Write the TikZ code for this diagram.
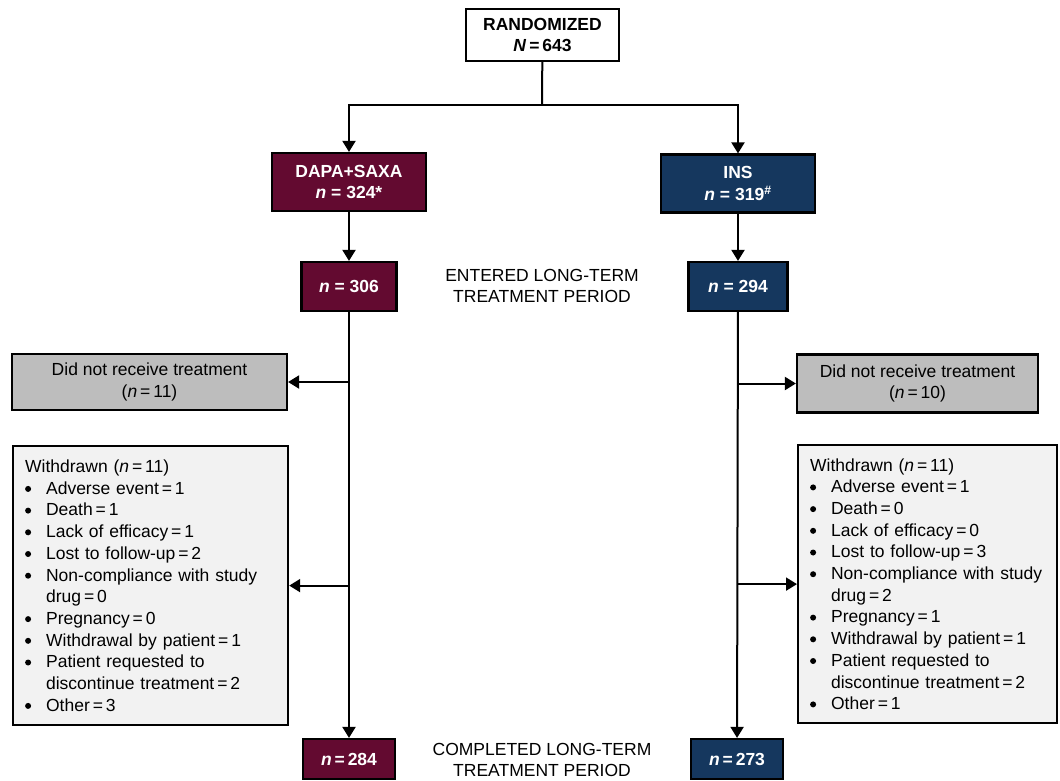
\documentclass[tikz,border=0pt]{standalone}
\usepackage{fontspec}
\setmainfont{Liberation Sans}
\usetikzlibrary{arrows.meta}
\definecolor{dMaroon}{HTML}{630A30}
\definecolor{dNavy}{HTML}{15375E}
\definecolor{dGrey}{HTML}{BDBDBD}
\definecolor{dLight}{HTML}{F2F2F2}
\newcommand{\wbul}{\makebox[21pt][l]{\tikz[baseline=0pt,x=1pt,y=1pt]\fill (4.5,5.3) circle (3);}}
\newcommand{\wcont}{\hspace*{21pt}}

\begin{document}
\begin{tikzpicture}[x=1pt,y=-1pt]
    \tikzset{
        every node/.style={font=\fontsize{17.5}{21.7}\selectfont},
        box/.style={draw=black, line width=2.2pt, inner sep=0pt, align=center},
        topbox/.style={box, fill=white, font=\fontsize{17.5}{21.7}\selectfont\bfseries},
        dapabox/.style={box, fill=dMaroon, text=white, font=\fontsize{17.5}{21.7}\selectfont\bfseries},
        insbox/.style={box, fill=dNavy, text=white, font=\fontsize{17.5}{21.7}\selectfont\bfseries},
        notrx/.style={box, fill=dGrey},
        wdbox/.style={box, fill=dLight, align=left, anchor=north west, inner xsep=12pt},
        conn/.style={line width=2pt},
        arr/.style={conn, -{Triangle[length=11pt,width=13pt]}}
    };
    \useasboundingbox (0,0) rectangle (1060,780);

	% randomization and arms
    \node[topbox, minimum width=153pt, minimum height=52pt] (rand) at (542.5,35) {RANDOMIZED\\\textit{N}\,=\,643};
    \node[dapabox, minimum width=154pt, minimum height=58pt] (dapa) at (349,182) {DAPA+SAXA\\\textit{n} = 324*};
    \node[insbox, minimum width=154pt, minimum height=58pt] (ins) at (738,183.5) {INS\\\textit{n} = 319\textsuperscript{\#}};
    \coordinate (split) at (542,105);

	% long-term period
    \node[dapabox, minimum width=95pt, minimum height=49pt] (d306) at (349,286.5) {\textit{n} = 306};
    \node[insbox, minimum width=99pt, minimum height=49pt] (i294) at (738,286.5) {\textit{n} = 294};
    \node[align=center] (entered) at (542,286) {ENTERED LONG-TERM\\TREATMENT PERIOD};

	% not treated
    \node[notrx, minimum width=275pt, minimum height=56pt] (dnrL) at (149.5,382) {Did not receive treatment\\(\textit{n}\,=\,11)};
    \node[notrx, minimum width=241pt, minimum height=58pt] (dnrR) at (917.5,383.5) {Did not receive treatment\\(\textit{n}\,=\,10)};

	% withdrawals
    \node[wdbox, text width=251pt, minimum height=279pt] (wdL) at (12,445) {Withdrawn (\textit{n}\,=\,11)\\
        \wbul Adverse event\,=\,1\\
        \wbul Death\,=\,1\\
        \wbul Lack of efficacy\,=\,1\\
        \wbul Lost to follow-up\,=\,2\\
        \wbul Non-compliance with study\\
        \wcont drug\,=\,0\\
        \wbul Pregnancy\,=\,0\\
        \wbul Withdrawal by patient\,=\,1\\
        \wbul Patient requested to\\
        \wcont discontinue treatment\,=\,2\\
        \wbul Other\,=\,3};
    \node[wdbox, text width=235pt, minimum height=278pt] (wdR) at (797,444) {Withdrawn (\textit{n}\,=\,11)\\
        \wbul Adverse event\,=\,1\\
        \wbul Death\,=\,0\\
        \wbul Lack of efficacy\,=\,0\\
        \wbul Lost to follow-up\,=\,3\\
        \wbul Non-compliance with study\\
        \wcont drug\,=\,2\\
        \wbul Pregnancy\,=\,1\\
        \wbul Withdrawal by patient\,=\,1\\
        \wbul Patient requested to\\
        \wcont discontinue treatment\,=\,2\\
        \wbul Other\,=\,1};

	% completed
    \node[dapabox, minimum width=92pt, minimum height=40pt] (d284) at (349,759) {\textit{n}\,=\,284};
    \node[insbox, minimum width=92pt, minimum height=40pt] (i273) at (737,759) {\textit{n}\,=\,273};
    \node[align=center] (completed) at (542,760) {COMPLETED LONG-TERM\\TREATMENT PERIOD};

	% connectors
    \draw[conn] (rand) -- (split);
    \draw[arr] (split) -| (dapa);
    \draw[arr] (split) -| (ins);
    \draw[arr] (dapa) -- (d306);
    \draw[arr] (ins) -- (i294);
    \draw[arr] (d306) -- (d284);
    \draw[arr] (i294) -- (i273);
    \draw[arr] (d306.south |- dnrL.east) -- (dnrL);
    \draw[arr] (d306.south |- wdL.east) -- (wdL);
    \draw[arr] (i294.south |- dnrR.west) -- (dnrR);
    \draw[arr] (i294.south |- wdR.west) -- (wdR);
\end{tikzpicture}
\end{document}
